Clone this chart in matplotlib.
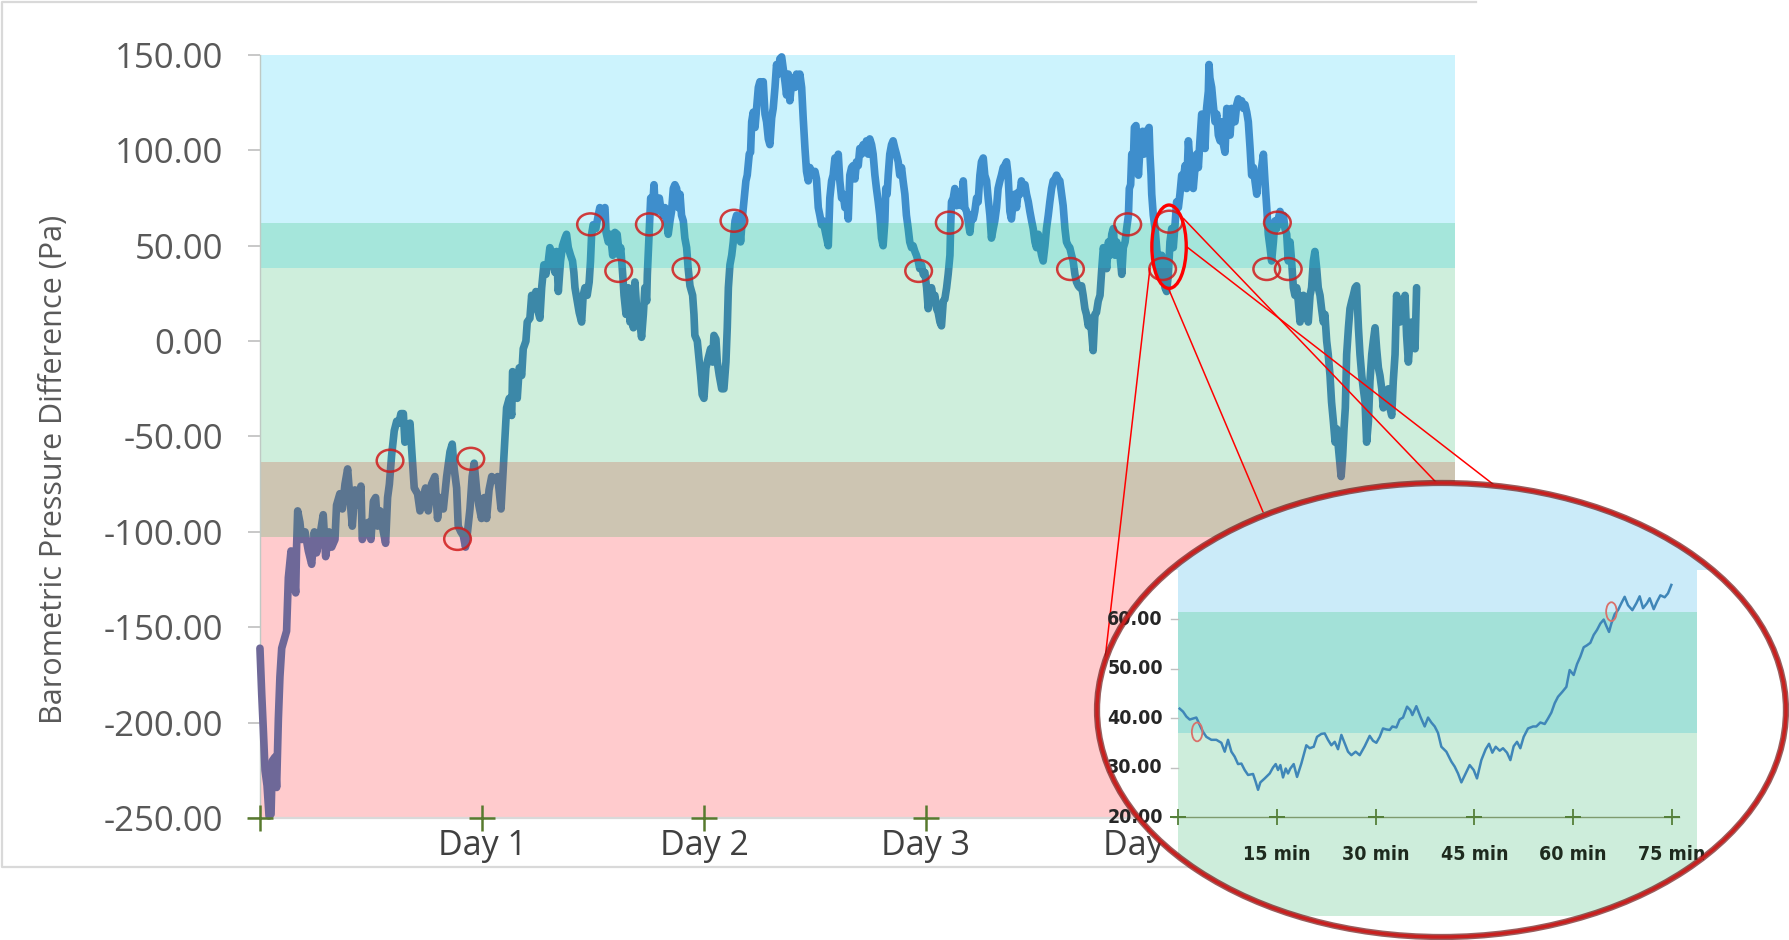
import matplotlib
matplotlib.use("Agg")
import matplotlib.pyplot as plt
import numpy as np
from matplotlib.patches import Ellipse, Rectangle, ConnectionPatch
from matplotlib.lines import Line2D

# ---- main series (days since start, Pa) ----
days_a = [
    0.000, 0.008, 0.015, 0.023, 0.032, 0.041, 0.050, 0.056, 0.068, 0.075,
    0.083, 0.090, 0.098, 0.110, 0.120, 0.128, 0.140, 0.150, 0.161, 0.165,
    0.170, 0.180, 0.188, 0.203, 0.218, 0.233, 0.245, 0.255, 0.270, 0.285,
    0.296, 0.311, 0.323, 0.338, 0.345, 0.360, 0.371, 0.383, 0.395, 0.405,
    0.416, 0.428, 0.443, 0.455, 0.461, 0.473, 0.488, 0.500, 0.511, 0.521,
    0.530, 0.541, 0.556, 0.566, 0.575, 0.583, 0.593, 0.605, 0.616, 0.626,
    0.635, 0.646, 0.653, 0.665, 0.676, 0.683, 0.695, 0.710, 0.721, 0.736,
    0.746, 0.758, 0.773, 0.788, 0.800, 0.811, 0.826, 0.841, 0.856, 0.866,
    0.875, 0.886, 0.893, 0.905, 0.916, 0.926, 0.935, 0.946, 0.956, 0.965,
    0.976, 0.986, 0.998, 1.011, 1.021, 1.032, 1.044, 1.056, 1.071, 1.086,
    1.096]
pa_a = [
    -161, -185, -203, -225, -233, -249, -248, -220, -218, -234,
    -198, -176, -161, -156, -152, -124, -110, -119, -132, -108,
    -89, -95, -104, -100, -110, -117, -100, -111, -102, -91,
    -113, -100, -108, -104, -86, -80, -88, -75, -67, -82,
    -97, -78, -86, -76, -104, -100, -95, -104, -84, -82,
    -97, -89, -100, -106, -82, -75, -60, -47, -42, -43,
    -38, -38, -53, -47, -43, -56, -77, -80, -89, -82,
    -77, -89, -75, -71, -93, -82, -88, -71, -58, -54,
    -67, -77, -97, -100, -102, -108, -100, -88, -71, -64,
    -78, -86, -93, -82, -93, -78, -71, -73, -71, -88,
    -67]

days_b = [
    1.104, 1.111, 1.123, 1.134, 1.138, 1.149, 1.159, 1.168, 1.179, 1.186,
    1.198, 1.204, 1.216, 1.224, 1.231, 1.243, 1.254, 1.261, 1.269, 1.279,
    1.288, 1.299, 1.306, 1.318, 1.329, 1.336, 1.344, 1.354, 1.363, 1.374,
    1.381, 1.389, 1.399, 1.408, 1.414, 1.419, 1.429, 1.438, 1.449, 1.456,
    1.464, 1.474, 1.483, 1.489, 1.494, 1.501, 1.513, 1.524, 1.531, 1.544,
    1.554, 1.559, 1.569, 1.579, 1.589, 1.599, 1.609, 1.619, 1.625, 1.634,
    1.640, 1.649, 1.659, 1.667, 1.674, 1.682, 1.689, 1.697, 1.709, 1.719,
    1.727, 1.734, 1.742, 1.745, 1.754, 1.760, 1.769, 1.775, 1.779, 1.787,
    1.799, 1.805, 1.817, 1.824, 1.832, 1.839, 1.847, 1.854, 1.862, 1.869,
    1.877, 1.884, 1.892, 1.899, 1.907, 1.914, 1.922, 1.929, 1.937, 1.949,
    1.955, 1.959, 1.970, 1.979, 1.985, 1.992, 2.000, 2.009, 2.019, 2.030,
    2.039, 2.045, 2.054, 2.060, 2.069, 2.080, 2.090, 2.099, 2.105, 2.110,
    2.117, 2.125, 2.132, 2.140, 2.147, 2.159, 2.165, 2.174, 2.180, 2.189,
    2.195, 2.204, 2.210, 2.215, 2.222, 2.230, 2.237, 2.245, 2.252, 2.260,
    2.267, 2.275, 2.282, 2.290, 2.297, 2.305, 2.312, 2.320, 2.327, 2.335,
    2.342, 2.350, 2.357, 2.365, 2.372, 2.380, 2.387, 2.395, 2.402, 2.410,
    2.417, 2.425, 2.432]
pa_b = [
    -51, -35, -30, -39, -16, -18, -30, -14, -18, -4,
    0, 10, 12, 24, 17, 26, 15, 12, 28, 40,
    35, 42, 49, 45, 36, 47, 26, 42, 50, 54,
    56, 49, 45, 42, 36, 28, 21, 15, 10, 24,
    28, 24, 31, 42, 56, 61, 59, 66, 70, 68,
    70, 57, 52, 56, 45, 57, 56, 45, 49, 35,
    24, 14, 28, 10, 21, 7, 31, 17, 12, 2,
    14, 28, 21, 35, 59, 75, 71, 82, 73, 68,
    75, 70, 66, 70, 63, 56, 63, 68, 80, 82,
    80, 70, 77, 66, 63, 54, 49, 38, 29, 24,
    14, 3, 0, -11, -18, -28, -30, -14, -9, -4,
    -11, 3, 1, -11, -18, -25, -25, -11, 7, 28,
    40, 45, 52, 63, 66, 61, 52, 66, 73, 84,
    87, 98, 99, 115, 120, 112, 122, 133, 136, 134,
    136, 119, 115, 106, 103, 117, 122, 133, 145, 140,
    148, 149, 143, 136, 129, 140, 126, 136, 138, 133,
    140, 134, 140]

days_c = [
    2.440, 2.447, 2.455, 2.462, 2.470, 2.477, 2.489, 2.500, 2.507, 2.515,
    2.522, 2.530, 2.537, 2.549, 2.560, 2.567, 2.575, 2.582, 2.590, 2.597,
    2.605, 2.612, 2.620, 2.627, 2.635, 2.642, 2.650, 2.657, 2.665, 2.672,
    2.680, 2.687, 2.695, 2.702, 2.710, 2.717, 2.725, 2.732, 2.740, 2.747,
    2.755, 2.762, 2.770, 2.777, 2.785, 2.792, 2.800, 2.807, 2.815, 2.819,
    2.825, 2.830, 2.837, 2.845, 2.852, 2.860, 2.867, 2.875, 2.882, 2.890,
    2.897, 2.905, 2.912, 2.920, 2.927, 2.935, 2.942, 2.950, 2.957, 2.965,
    2.972, 2.980, 2.988, 2.995, 3.003, 3.010, 3.018, 3.025, 3.033, 3.040,
    3.048, 3.055, 3.063, 3.070, 3.078, 3.085, 3.093, 3.100, 3.108, 3.111,
    3.115, 3.123, 3.130, 3.138, 3.145, 3.153, 3.160, 3.168, 3.175, 3.183,
    3.190, 3.198, 3.205, 3.213, 3.220, 3.228, 3.235, 3.243, 3.250, 3.258,
    3.265, 3.273, 3.280, 3.288, 3.295, 3.303, 3.310, 3.318, 3.325, 3.333,
    3.340, 3.348, 3.355, 3.363, 3.370, 3.378, 3.385, 3.393, 3.400, 3.408,
    3.415, 3.423, 3.430, 3.438, 3.446, 3.453, 3.461, 3.468, 3.476, 3.483,
    3.491, 3.498, 3.506, 3.513, 3.521, 3.528, 3.536, 3.543, 3.551, 3.558,
    3.566, 3.573, 3.581, 3.588, 3.596, 3.603, 3.611, 3.618, 3.626, 3.633,
    3.641, 3.648, 3.656, 3.663, 3.671, 3.678, 3.686, 3.693, 3.701, 3.708,
    3.716, 3.723, 3.731, 3.738, 3.746, 3.753, 3.761, 3.768, 3.776]
pa_c = [
    133, 117, 101, 89, 84, 91, 87, 89, 85, 70,
    66, 61, 63, 56, 50, 75, 84, 87, 96, 87,
    98, 84, 75, 77, 70, 75, 64, 87, 91, 92,
    85, 94, 92, 101, 98, 103, 99, 105, 98, 106,
    103, 98, 87, 80, 73, 66, 54, 50, 63, 80,
    77, 87, 98, 103, 105, 101, 98, 94, 87, 91,
    84, 77, 66, 59, 52, 49, 50, 47, 45, 42,
    38, 40, 35, 36, 28, 17, 24, 28, 22, 24,
    17, 15, 10, 8, 21, 22, 28, 35, 45, 59,
    73, 75, 80, 71, 78, 77, 71, 84, 70, 68,
    63, 57, 66, 64, 68, 75, 73, 87, 94, 96,
    87, 84, 75, 66, 54, 59, 63, 70, 80, 84,
    87, 91, 92, 94, 87, 68, 64, 73, 77, 70,
    78, 77, 84, 80, 82, 77, 73, 68, 63, 59,
    52, 49, 56, 50, 45, 42, 50, 59, 66, 73,
    80, 84, 85, 87, 85, 84, 77, 71, 59, 52,
    50, 49, 45, 42, 35, 31, 29, 28, 29, 24,
    17, 14, 8, 12, 5, -5, 14, 15, 21]

days_d = [
    3.784, 3.792, 3.799, 3.807, 3.814, 3.822, 3.829, 3.837, 3.844, 3.852,
    3.859, 3.867, 3.874, 3.882, 3.889, 3.897, 3.904, 3.912, 3.916, 3.922,
    3.927, 3.934, 3.939, 3.946, 3.952, 3.957, 3.964, 3.972, 3.976, 3.982,
    3.990, 3.997, 4.005, 4.009, 4.014, 4.017, 4.024, 4.032, 4.039, 4.047,
    4.054, 4.062, 4.069, 4.077, 4.084, 4.092, 4.099, 4.107, 4.114, 4.122,
    4.129, 4.137, 4.144, 4.152, 4.159, 4.167, 4.174, 4.182, 4.189, 4.197,
    4.204, 4.212, 4.219, 4.227, 4.234, 4.242, 4.249, 4.257, 4.264, 4.272,
    4.275, 4.279, 4.287, 4.294, 4.302, 4.310, 4.317, 4.325, 4.332, 4.340,
    4.347, 4.355, 4.362, 4.370, 4.377, 4.385, 4.392, 4.400, 4.407, 4.415,
    4.422, 4.430, 4.437, 4.445, 4.452, 4.460, 4.467, 4.475, 4.482, 4.490,
    4.497, 4.505, 4.512, 4.520, 4.527, 4.535, 4.542, 4.550, 4.557, 4.565,
    4.572, 4.580, 4.587, 4.595, 4.602, 4.610, 4.617, 4.625, 4.632, 4.640,
    4.647, 4.655, 4.662, 4.670, 4.677, 4.685, 4.692, 4.700, 4.707, 4.715,
    4.722, 4.730, 4.737, 4.745, 4.752, 4.760, 4.767, 4.775, 4.782, 4.790,
    4.797, 4.805, 4.812, 4.820, 4.827, 4.835, 4.843, 4.850, 4.858, 4.865,
    4.870, 4.877, 4.883, 4.889, 4.895, 4.903, 4.910, 4.918, 4.925, 4.933,
    4.940, 4.948, 4.955, 4.963, 4.970, 4.978, 4.985, 4.993, 5.000, 5.008,
    5.015, 5.023, 5.030, 5.038, 5.045, 5.053, 5.060, 5.068, 5.075, 5.083,
    5.090, 5.098, 5.105, 5.113, 5.120, 5.128, 5.135, 5.143, 5.150, 5.158,
    5.165, 5.173, 5.180, 5.188, 5.195, 5.203, 5.210]
pa_d = [
    24, 38, 49, 45, 38, 52, 45, 56, 59, 45,
    52, 49, 45, 35, 49, 52, 59, 66, 80, 82,
    98, 94, 112, 113, 101, 87, 101, 105, 110, 98,
    110, 110, 112, 98, 87, 77, 66, 59, 49, 38,
    35, 45, 35, 28, 26, 35, 52, 59, 49, 61,
    73, 70, 77, 87, 84, 92, 80, 105, 94, 96,
    80, 91, 98, 91, 105, 119, 115, 101, 122, 131,
    145, 138, 133, 124, 115, 119, 108, 105, 115, 103,
    99, 122, 115, 108, 122, 119, 115, 124, 127, 124,
    126, 122, 124, 120, 115, 101, 87, 91, 84, 77,
    87, 84, 91, 98, 84, 70, 56, 49, 42, 52,
    63, 59, 64, 68, 63, 66, 59, 56, 42, 52,
    42, 28, 24, 28, 21, 10, 17, 24, 21, 14,
    10, 24, 28, 42, 47, 38, 28, 24, 17, 10,
    14, 0, -7, -18, -32, -42, -53, -46, -56, -65,
    -71, -60, -46, -35, -7, 7, 17, 21, 24, 28,
    29, 7, -7, -18, -25, -32, -53, -42, -21, -7,
    0, 7, -4, -14, -18, -25, -35, -28, -32, -25,
    -35, -39, -21, -7, 24, 17, 10, 21, 14, 24,
    3, -11, 0, 10, 7, -4, 28]

# threshold bands (Pa) and colours
band_edges = [-250, -102.5, -63.3, 38.5, 62.0, 150]
band_colors = ['#FFCBCD', '#CDC5B2', '#CEEEDC', '#A5E6DB', '#CCF3FD']
line_colors = ['#6E6898', '#5B7590', '#3C88A8', '#3596B4', '#3E8ECC']

day_ticks = [0, 1, 2, 3, 4]
day_labels = ['', 'Day 1', 'Day 2', 'Day 3', 'Day 4']
ytick_vals = [-250, -200, -150, -100, -50, 0, 50, 100, 150]
ytick_labels = ['-250.00', '-200.00', '-150.00', '-100.00', '-50.00',
                '0.00', '50.00', '100.00', '150.00']

# red circles marking threshold crossings
circle_days = [0.586, 0.950, 0.890, 1.489, 1.616, 1.754, 1.919, 2.135, 2.967,
               3.105, 3.651, 3.909, 4.066, 4.096, 4.535, 4.583, 4.632]
circle_pa = [-62.7, -61.7, -103.7, 61.2, 36.8, 61.2, 37.8, 63.1, 36.8,
             62.1, 37.8, 61.2, 37.8, 62.6, 37.8, 62.1, 37.8]
zoom_day, zoom_pa = 4.095, 49.5

# leader lines: start on main chart (data), end on zoom bubble (axes fraction)
link_from_day = [4.009, 4.092, 4.159, 4.174]
link_from_pa = [38.2, 27.7, 64.4, 49.5]
link_to_fx = [0.012, 0.241, 0.493, 0.576]
link_to_fy = [0.617, 0.936, 1.0, 0.996]

# ---- zoomed 75 minute window (minutes, Pa) ----
inset_min = [
    0.25, 0.76, 1.27, 1.77, 2.28, 2.78, 3.19, 3.54, 3.80, 4.30,
    5.06, 5.82, 6.58, 7.09, 7.59, 8.10, 8.60, 9.11, 9.62, 10.12,
    10.63, 11.39, 11.79, 12.15, 12.50, 13.16, 13.92, 14.42, 14.83, 15.18,
    15.54, 15.94, 16.35, 16.70, 17.05, 17.56, 18.07, 18.72, 19.48, 19.99,
    20.60, 21.10, 21.76, 22.27, 22.77, 23.28, 23.79, 24.29, 24.80, 25.30,
    25.81, 26.32, 26.97, 27.58, 28.34, 29.10, 29.61, 30.11, 30.62, 31.12,
    31.63, 32.14, 32.54, 33.15, 33.65, 34.16, 34.77, 35.27, 35.58, 36.18,
    36.79, 37.45, 37.96, 38.46, 38.97, 39.47, 39.98, 40.74, 41.50, 42.00,
    42.51, 43.02, 43.67, 44.28, 44.89, 45.39, 46.05, 46.71, 47.22, 47.72,
    48.23, 48.84, 49.34, 49.95, 50.46, 50.96, 51.47, 51.97, 52.48, 53.14,
    53.90, 54.40, 55.01, 55.67, 56.17, 56.68, 57.19, 57.69, 58.35, 58.96,
    59.46, 60.07, 60.58, 61.08, 61.59, 62.09, 62.60, 63.11, 63.61, 64.12,
    64.63, 65.03, 65.44, 65.79, 66.30, 66.80, 67.31, 67.81, 68.32, 68.98,
    69.59, 70.09, 70.60, 71.20, 71.61, 72.22, 72.72, 73.23, 73.89, 74.39,
    74.90]
inset_pa = [
    41.9, 41.3, 40.3, 39.7, 39.9, 40.1, 38.9, 37.9, 37.2, 36.2,
    35.6, 35.6, 35.0, 33.2, 35.6, 33.2, 32.2, 30.7, 30.8, 29.5,
    28.5, 28.7, 27.1, 25.5, 27.0, 27.8, 28.8, 30.0, 30.7, 29.5,
    30.5, 28.0, 29.8, 28.8, 29.8, 30.7, 28.1, 30.8, 34.5, 33.9,
    34.2, 36.2, 36.8, 36.9, 35.6, 34.5, 35.2, 33.7, 36.6, 34.9,
    33.2, 32.5, 33.2, 32.5, 34.3, 36.4, 35.4, 35.0, 36.2, 37.9,
    37.7, 37.6, 38.3, 38.1, 39.7, 40.1, 42.3, 41.6, 40.6, 42.4,
    40.3, 38.3, 40.1, 39.1, 38.3, 37.0, 34.2, 33.2, 31.2, 30.2,
    28.8, 27.0, 28.8, 30.5, 29.5, 27.8, 31.5, 33.7, 34.8, 33.0,
    34.2, 33.4, 33.9, 33.0, 31.5, 34.3, 35.2, 33.9, 36.2, 37.9,
    38.3, 38.3, 39.1, 38.8, 39.9, 41.1, 43.0, 44.3, 45.3, 46.3,
    49.7, 48.7, 50.9, 52.4, 54.3, 54.7, 55.2, 56.8, 57.8, 59.1,
    59.9, 58.6, 57.4, 59.1, 61.0, 61.8, 63.2, 64.5, 62.8, 61.8,
    63.2, 64.6, 62.2, 63.2, 64.2, 62.0, 63.5, 64.8, 64.4, 65.2,
    66.9]
inset_band_edges = [0, 36.9, 61.5, 87.5]
inset_band_colors = ['#CDEDDB', '#A3E1D8', '#CBEBF9']
inset_ticks = [0, 15, 30, 45, 60, 75]
inset_tick_labels = ['', '15 min', '30 min', '45 min', '60 min', '75 min']
inset_ytick_vals = [20, 30, 40, 50, 60]
inset_ytick_labels = ['20.00', '30.00', '40.00', '50.00', '60.00']
inset_circle_min = [2.9, 65.8]
inset_circle_pa = [37.2, 61.5]

plt.rcParams['font.family'] = ['Open Sans', 'DejaVu Sans']
narrow = ['Liberation Sans Narrow', 'DejaVu Sans']

fig = plt.figure(figsize=(17.89, 9.40), dpi=100)
fig.patch.set_facecolor('white')

# light frame around the chart (open on the right)
fig.add_artist(Line2D([0.825, 0.0011, 0.0011, 0.825], [0.9979, 0.9979, 0.0777, 0.0777],
                      transform=fig.transFigure, color='#D9D9D9', lw=1.6, zorder=0))

ax = fig.add_axes([0.1453, 0.1298, 0.6680, 0.8117])
ax.set_zorder(1)
ax.set_xlim(0, 5.383)
ax.set_ylim(-250, 150)

for lo, hi, c in zip(band_edges[:-1], band_edges[1:], band_colors):
    ax.axhspan(lo, hi, color=c, lw=0, zorder=0)

days = np.concatenate([days_a, days_b, days_c, days_d])
pa = np.concatenate([pa_a, pa_b, pa_c, pa_d])

# same trace drawn once per band, clipped, so it takes on the band tint
for i, lc in enumerate(line_colors):
    lo = band_edges[i] if i > 0 else -400
    hi = band_edges[i + 1] if i < len(line_colors) - 1 else 400
    ln, = ax.plot(days, pa, color=lc, lw=5.5, solid_joinstyle='round',
                  solid_capstyle='round', zorder=3)
    ln.set_clip_path(Rectangle((-1, lo), 10, hi - lo, transform=ax.transData))

for d, v in zip(circle_days, circle_pa):
    ax.add_patch(Ellipse((d, v), 0.12, 11.5, fill=False, ec='#D01C1C', lw=1.8,
                         alpha=0.85, zorder=4))
ax.add_patch(Ellipse((zoom_day, zoom_pa), 0.155, 43.7, fill=False, ec='#FF0000',
                     lw=2.4, zorder=4))

ax.plot(day_ticks, [-250] * len(day_ticks), '+', ms=19, mew=1.8, color='#587A2E',
        clip_on=False, zorder=5)
ax.set_xticks(day_ticks[1:])
ax.set_xticklabels(day_labels[1:])
ax.tick_params(axis='x', length=0, pad=8, labelsize=24.5, labelcolor='#404040')

ax.set_yticks(ytick_vals)
ax.set_yticklabels(ytick_labels)
ax.tick_params(axis='y', length=8.6, width=1.2, color='#BFBFBF', pad=18,
               labelsize=25, labelcolor='#595959')

for s in ['top', 'right']:
    ax.spines[s].set_visible(False)
ax.spines['left'].set_color('#BFC9C4')
ax.spines['left'].set_linewidth(1.0)
ax.spines['bottom'].set_color('#D9D9D9')
ax.spines['bottom'].set_linewidth(1.6)

fig.text(0.0300, 0.501, 'Barometric Pressure Difference (Pa)', rotation=90,
         ha='center', va='center', fontsize=22, color='#595959')

# ---- zoom bubble ----
ax2 = fig.add_axes([0.6132, 0.0032, 0.3851, 0.4830])
ax2.set_zorder(5)
ax2.set_xlim(-12.3, 92.3)
ax2.set_ylim(-4.24, 87.5)
ax2.axis('off')
clip = Ellipse((0.5, 0.5), 1, 1, transform=ax2.transAxes)

arts = [ax2.add_patch(Ellipse((0.5, 0.5), 1, 1, transform=ax2.transAxes,
                              fc='white', ec='none', zorder=0))]
arts.append(ax2.add_patch(Rectangle((-12.3, 69.9), 104.6, 17.6, fc=inset_band_colors[-1],
                                    ec='none', zorder=1)))
for lo, hi, c in zip(inset_band_edges[:-1], inset_band_edges[1:], inset_band_colors):
    arts.append(ax2.add_patch(Rectangle((0, lo), 78.8, hi - lo, fc=c, ec='none', zorder=1)))

arts.append(ax2.plot([-0.8, 76], [20, 20], color='#7E9B6E', lw=1.0, zorder=2)[0])
arts.append(ax2.plot(inset_ticks, [20] * len(inset_ticks), '+', ms=11, mew=1.3,
                     color='#55803A', zorder=3)[0])
for v in inset_ytick_vals[1:]:
    arts.append(ax2.plot([-1, 0], [v, v], color='#C0C0C0', lw=1.0, zorder=2)[0])

arts.append(ax2.plot(inset_min, inset_pa, color='#3F86B8', lw=1.8, zorder=4)[0])
for m, v in zip(inset_circle_min, inset_circle_pa):
    arts.append(ax2.add_patch(Ellipse((m, v), 1.6, 3.8, fill=False, ec='#D9706A',
                                      lw=1.3, zorder=5)))

for v, lab in zip(inset_ytick_vals, inset_ytick_labels):
    arts.append(ax2.text(-2.3, v, lab, ha='right', va='center', fontsize=14,
                         fontweight='bold', fontstretch='condensed',
                         color='#262626', family=narrow, clip_on=True, zorder=5))
for m, lab in zip(inset_ticks, inset_tick_labels):
    arts.append(ax2.text(m, 12.4, lab, ha='center', va='center', fontsize=14,
                         fontweight='bold', fontstretch='condensed',
                         color='#1E2A1E', family=narrow, clip_on=True, zorder=5))

for a in arts:
    a.set_clip_path(clip)

ax2.add_patch(Ellipse((0.5, 0.5), 1, 1, transform=ax2.transAxes, fill=False,
                      ec='#6E1A1A', lw=4.5, alpha=0.7, clip_on=False, zorder=10))
ax2.add_patch(Ellipse((0.5, 0.5), 1, 1, transform=ax2.transAxes, fill=False,
                      ec='#C8201F', lw=2.4, clip_on=False, zorder=11))

for d, v, fx, fy in zip(link_from_day, link_from_pa, link_to_fx, link_to_fy):
    con = ConnectionPatch(xyA=(d, v), coordsA=ax.transData, xyB=(fx, fy),
                          coordsB=ax2.transAxes, color='#FF0000', lw=1.1, zorder=2)
    fig.add_artist(con)

fig.savefig('out.png', dpi=100)
